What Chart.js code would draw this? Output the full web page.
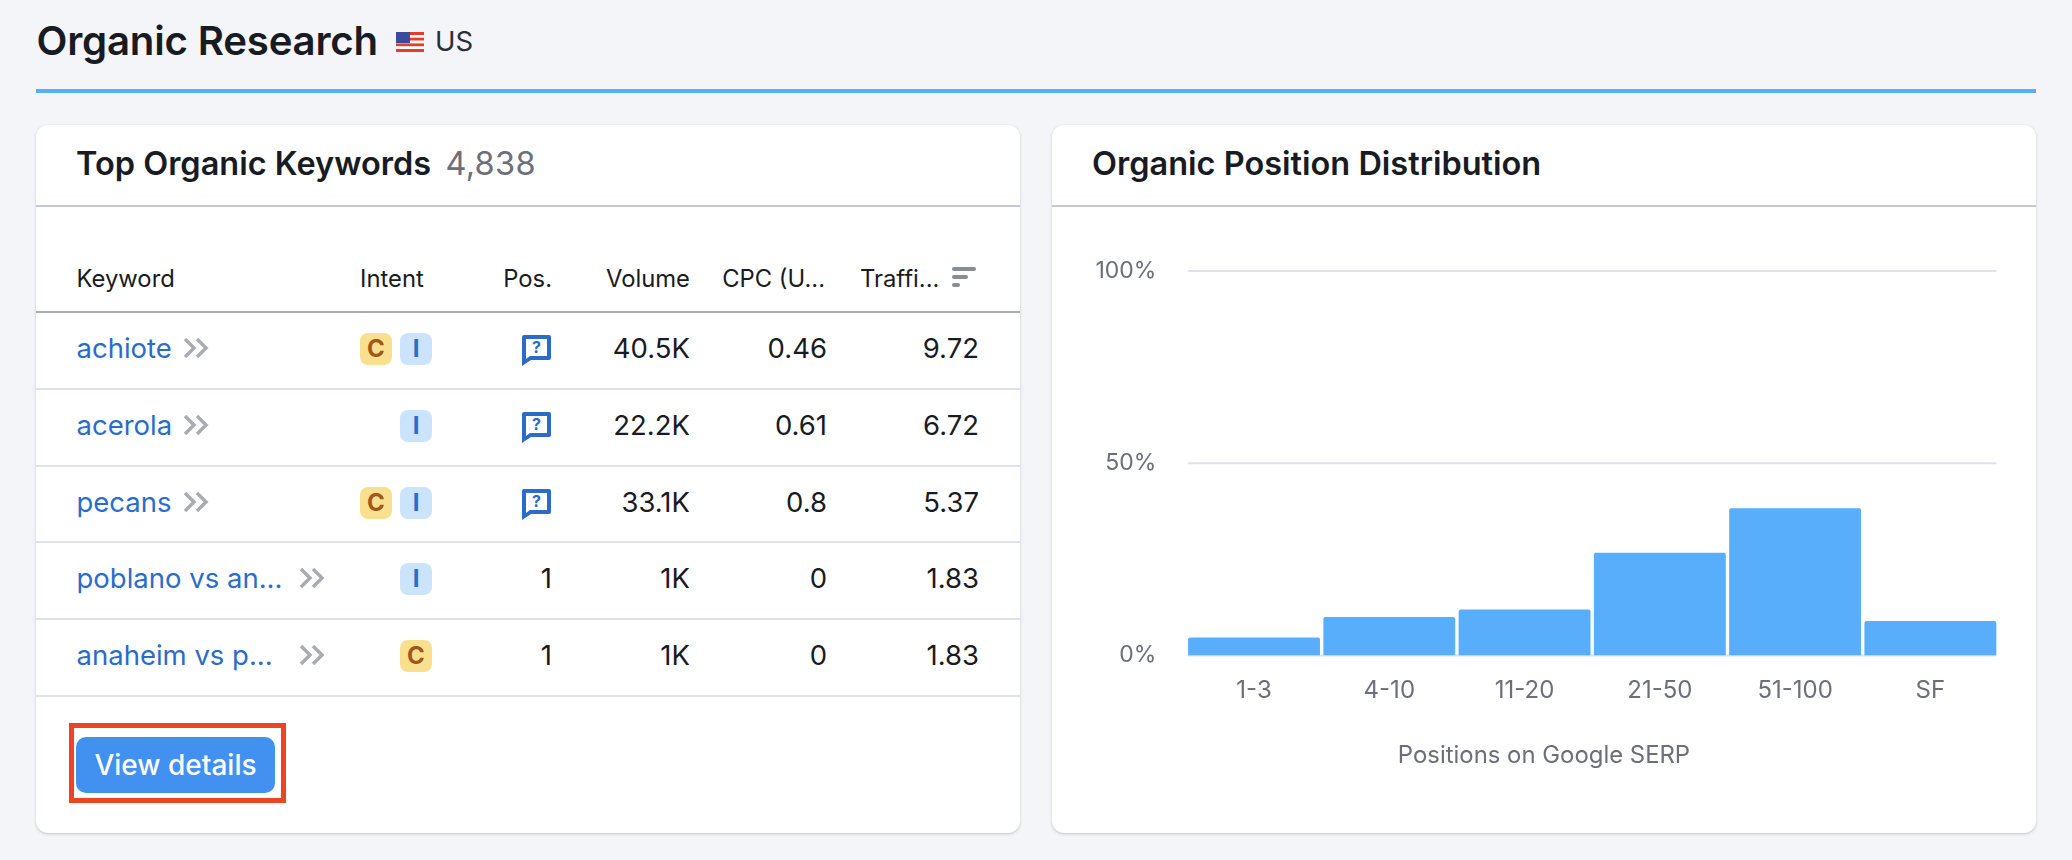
<!DOCTYPE html>
<html>
<head>
<meta charset="utf-8">
<title>Organic Research</title>
<script src="https://cdn.jsdelivr.net/npm/chart.js@4"></script>
<style>
  * { box-sizing: border-box; }
  html, body { margin: 0; width: 2072px; height: 860px; overflow: hidden; background: #f4f5f9; font-family: Inter, sans-serif; color: #191b23; }
  .abs { position: absolute; white-space: nowrap; }
  .page-title { left: 36.5px; top: 17px; font-size: 40.2px; line-height: 48px; font-weight: 600; letter-spacing: -0.2px; }
  .flag { left: 396px; top: 32px; }
  .country { left: 435px; top: 24px; font-size: 27.5px; line-height: 34px; color: #2b2e37; }
  .rule { left: 36px; top: 89px; width: 2000px; height: 4px; background: #58aefb; }
  .card { top: 125px; height: 708px; background: #fff; border-radius: 12px; box-shadow: 0 1px 3px rgba(25,27,35,.22); }
  #left { left: 36px; width: 984px; }
  #right { left: 1052px; width: 984px; }
  .card-head { left: 0; top: 80px; width: 100%; height: 2px; background: #c4c7cf; }
  .card-title { top: 19px; font-size: 32.5px; line-height: 40px; font-weight: 600; left: 40px; }
  .count { font-weight: 400; color: #6c6e79; margin-left: 5px; letter-spacing: 0.3px; }
  .th { top: 139px; font-size: 23.8px; line-height: 30px; color: #191b23; }
  .th-line { left: 0; top: 186px; width: 100%; height: 2px; background: #a9abb3; }
  .row { position: absolute; left: 0; width: 100%; height: 76.75px; border-bottom: 2px solid #e0e1e9; }
  .cell { position: absolute; top: 18px; line-height: 34px; font-size: 27.5px; text-align: right; white-space: nowrap; }
  .kw { position: absolute; left: 40.5px; top: 18px; line-height: 34px; font-size: 27.5px; color: #2a6cc8; display: flex; align-items: center; white-space: nowrap; }
  .kw svg { margin-left: 11px; flex: none; }
  .kw .cut { display: inline-block; width: 213px; }
  .kw .cut + svg { margin-left: 9px; }
  .badge { position: absolute; top: 20px; width: 32px; height: 32px; border-radius: 8px; font-size: 24px; font-weight: 700; line-height: 32px; text-align: center; }
  .badge.C { background: #f9e08e; color: #a2571a; }
  .badge.I { background: #cce4fb; color: #2a6cc8; }
  .bubble { position: absolute; left: 486px; top: 22px; }
  .btn { left: 40px; top: 612px; width: 199px; height: 56px; border-radius: 10px; background: #4290f0; color: #fff; font-size: 28px; font-weight: 500; line-height: 56px; text-align: center; }
  .mark { left: 33px; top: 598px; width: 217px; height: 80px; border: 5px solid #ee4423; }
  #chartBox { position: absolute; left: 0; top: 83px; width: 984px; height: 625px; }
</style>
</head>
<body>
<div class="abs page-title">Organic Research</div>
<svg class="abs flag" width="28" height="20" viewBox="0 0 28 20">
  <rect width="28" height="20" fill="#fff"/>
  <g fill="#ea3b24">
    <rect y="0" width="28" height="3"/><rect y="5.7" width="28" height="2.8"/><rect y="11.4" width="28" height="2.8"/><rect y="17" width="28" height="3"/>
  </g>
  <rect width="14" height="11" fill="#3b4a9c"/>
</svg>
<div class="abs country">US</div>
<div class="abs rule"></div>

<div class="abs card" id="left">
  <div class="abs card-title">Top Organic Keywords<span class="count"> 4,838</span></div>
  <div class="abs card-head"></div>
  <div class="abs th" style="left:40.5px">Keyword</div>
  <div class="abs th" style="left:324px">Intent</div>
  <div class="abs th" style="right:468px">Pos.</div>
  <div class="abs th" style="right:330px">Volume</div>
  <div class="abs th" style="right:195px">CPC (U...</div>
  <div class="abs th" style="left:824px">Traffi...</div>
  <svg class="abs" style="left:916px;top:142px" width="24" height="20" viewBox="0 0 24 20">
    <rect x="0" y="0" width="24" height="4" rx="2" fill="#8a8c94"/>
    <rect x="0" y="8" width="16" height="4" rx="2" fill="#8a8c94"/>
    <rect x="0" y="16" width="8" height="4" rx="2" fill="#8a8c94"/>
  </svg>
  <div class="abs th-line"></div>
  <div id="rows"></div>
  <div class="abs mark"></div>
  <div class="abs btn">View details</div>
</div>

<div class="abs card" id="right">
  <div class="abs card-title" style="left:40px">Organic Position Distribution</div>
  <div class="abs card-head"></div>
  <div id="chartBox"><canvas id="positions"></canvas></div>
</div>

<script>
const keywords = ["achiote", "acerola", "pecans", "poblano vs an...", "anaheim vs p..."];
const intents = [["C", "I"], ["I"], ["C", "I"], ["I"], ["C"]];
const positions = ["?", "?", "?", "1", "1"];
const volumes = ["40.5K", "22.2K", "33.1K", "1K", "1K"];
const cpcs = ["0.46", "0.61", "0.8", "0", "0"];
const traffic = ["9.72", "6.72", "5.37", "1.83", "1.83"];

const positionRanges = ["1-3", "4-10", "11-20", "21-50", "51-100", "SF"];
const positionShares = [4.7, 10, 12, 26.7, 38.3, 9];
const shareTicks = [0, 50, 100];

const chevrons = '<svg width="26" height="20" viewBox="0 0 26 20" fill="none" stroke="#a9abb3" stroke-width="3.5"><path d="M2 1 L11 10 L2 19"/><path d="M14 1 L23 10 L14 19"/></svg>';
const bubble = '<svg width="29" height="31" viewBox="0 0 29 31"><path fill="#2a6cc8" d="M2 0 H27 Q29 0 29 2 V23 Q29 25 27 25 H9 L0 31 V2 Q0 0 2 0 Z"/><path fill="#fff" d="M4 4 H25 V21 H8 L4 24 Z"/><text x="14.5" y="18" font-family="Inter" font-size="16" font-weight="700" text-anchor="middle" fill="#2a6cc8">?</text></svg>';

const rowsEl = document.getElementById("rows");
keywords.forEach((kw, i) => {
  const row = document.createElement("div");
  row.className = "row";
  row.style.top = 188 + i * 76.75 + "px";
  let html = '<div class="kw"><span' + (kw.endsWith("...") ? ' class="cut"' : "") + ">" + kw + "</span>" + chevrons + "</div>";
  intents[i].slice().reverse().forEach((code, j) => {
    html += '<div class="badge ' + code + '" style="left:' + (364 - j * 40) + 'px">' + code + "</div>";
  });
  if (positions[i] === "?") html += '<div class="bubble">' + bubble + "</div>";
  else html += '<div class="cell" style="right:468px">' + positions[i] + "</div>";
  html += '<div class="cell" style="right:330px">' + volumes[i] + "</div>";
  html += '<div class="cell" style="right:193px">' + cpcs[i] + "</div>";
  html += '<div class="cell" style="right:41px">' + traffic[i] + "</div>";
  row.innerHTML = html;
  rowsEl.appendChild(row);
});

// gridlines only run from the first bar's edge to the last bar's edge
const insetGrid = {
  id: "insetGrid",
  beforeDatasetsDraw(chart) {
    const bars = chart.getDatasetMeta(0).data;
    const from = bars[0].x - bars[0].width / 2;
    const to = bars[bars.length - 1].x + bars[bars.length - 1].width / 2;
    const ctx = chart.ctx;
    ctx.save();
    ctx.strokeStyle = "#e0e1e9";
    ctx.lineWidth = 2;
    shareTicks.forEach((t) => {
      const y = chart.scales.y.getPixelForValue(t);
      ctx.beginPath();
      ctx.moveTo(from, y);
      ctx.lineTo(to, y);
      ctx.stroke();
    });
    ctx.restore();
  },
};

Chart.defaults.font.family = "Inter";
new Chart(document.getElementById("positions"), {
  type: "bar",
  plugins: [insetGrid],
  data: {
    labels: positionRanges,
    datasets: [{
      data: positionShares,
      backgroundColor: "#58aefb",
      categoryPercentage: 1,
      barPercentage: 0.975,
      borderRadius: { topLeft: 2, topRight: 2 },
      borderSkipped: "bottom",
    }],
  },
  options: {
    responsive: true,
    maintainAspectRatio: false,
    animation: false,
    layout: { padding: { top: 63, left: 38, right: 38, bottom: 63 } },
    plugins: {
      legend: { display: false },
      tooltip: { enabled: false },
      title: {
        display: true,
        position: "bottom",
        text: "Positions on Google SERP",
        color: "#6c6e79",
        font: { size: 23.9, weight: 400 },
        padding: { top: 23, bottom: 0 },
      },
    },
    scales: {
      x: {
        grid: { display: false },
        border: { display: false },
        ticks: { color: "#6c6e79", font: { size: 24 }, padding: 13, maxRotation: 0 },
      },
      y: {
        min: 0,
        max: 100,
        afterBuildTicks(scale) { scale.ticks = shareTicks.map((value) => ({ value })); },
        afterFit(scale) { scale.width = 96.4; },
        grid: { display: false },
        border: { display: false },
        ticks: { color: "#6c6e79", font: { size: 23 }, padding: 22, callback: (v) => v + "%" },
      },
    },
  },
});
</script>
</body>
</html>
